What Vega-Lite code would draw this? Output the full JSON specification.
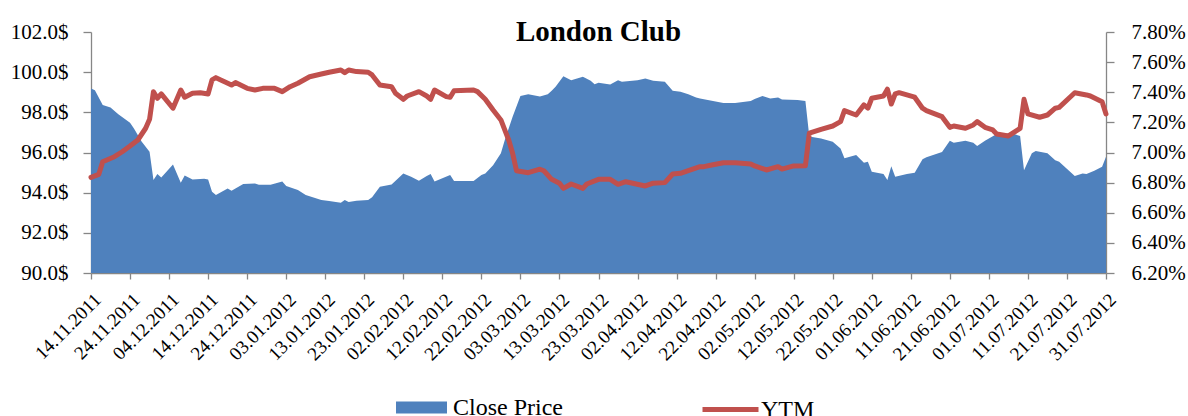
{
  "$schema": "https://vega.github.io/schema/vega-lite/v6.json",
  "width": 1015,
  "height": 241,
  "autosize": {"type": "none"},
  "padding": {"left": 91, "top": 32, "right": 82, "bottom": 143},
  "background": "#ffffff",
  "title": {"text": "London Club", "font": "Liberation Serif", "fontSize": 29, "fontWeight": "bold", "color": "#000000", "anchor": "middle", "frame": "group", "baseline": "alphabetic", "offset": -49},
  "config": {
    "view": {"stroke": null},
    "axis": {"labelFont": "Liberation Serif", "labelFontSize": 21, "labelColor": "#000000", "domainColor": "#868686", "tickColor": "#868686", "domainWidth": 1.3, "tickWidth": 1.3, "grid": false, "labelOverlap": false},
    "legend": {"labelFont": "Liberation Serif", "labelFontSize": 24, "labelColor": "#000000", "padding": 0}
  },
  "datasets": {
    "price": [
      {"date": "2011-11-14T00:00", "price": 99.19},
      {"date": "2011-11-15T00:00", "price": 99.1},
      {"date": "2011-11-17T00:00", "price": 98.36},
      {"date": "2011-11-19T00:00", "price": 98.24},
      {"date": "2011-11-21T00:00", "price": 97.9},
      {"date": "2011-11-24T00:00", "price": 97.48},
      {"date": "2011-11-25T00:00", "price": 97.2},
      {"date": "2011-11-27T00:00", "price": 96.53},
      {"date": "2011-11-29T00:00", "price": 96.04},
      {"date": "2011-11-30T00:00", "price": 94.63},
      {"date": "2011-12-01T00:00", "price": 94.93},
      {"date": "2011-12-02T00:00", "price": 94.76},
      {"date": "2011-12-05T00:00", "price": 95.4},
      {"date": "2011-12-07T00:00", "price": 94.5},
      {"date": "2011-12-08T00:00", "price": 94.85},
      {"date": "2011-12-10T00:00", "price": 94.66},
      {"date": "2011-12-13T00:00", "price": 94.69},
      {"date": "2011-12-14T00:00", "price": 94.66},
      {"date": "2011-12-15T00:00", "price": 94.05},
      {"date": "2011-12-16T00:00", "price": 93.88},
      {"date": "2011-12-19T00:00", "price": 94.21},
      {"date": "2011-12-20T00:00", "price": 94.1},
      {"date": "2011-12-23T00:00", "price": 94.43},
      {"date": "2011-12-26T00:00", "price": 94.46},
      {"date": "2011-12-27T00:00", "price": 94.4},
      {"date": "2011-12-30T00:00", "price": 94.4},
      {"date": "2012-01-02T00:00", "price": 94.55},
      {"date": "2012-01-03T00:00", "price": 94.33},
      {"date": "2012-01-06T00:00", "price": 94.13},
      {"date": "2012-01-08T00:00", "price": 93.88},
      {"date": "2012-01-12T00:00", "price": 93.63},
      {"date": "2012-01-14T00:00", "price": 93.58},
      {"date": "2012-01-17T00:00", "price": 93.5},
      {"date": "2012-01-18T00:00", "price": 93.63},
      {"date": "2012-01-19T00:00", "price": 93.53},
      {"date": "2012-01-21T00:00", "price": 93.6},
      {"date": "2012-01-24T00:00", "price": 93.63},
      {"date": "2012-01-25T00:00", "price": 93.77},
      {"date": "2012-01-27T00:00", "price": 94.3},
      {"date": "2012-01-30T00:00", "price": 94.41},
      {"date": "2012-02-02T00:00", "price": 94.96},
      {"date": "2012-02-04T00:00", "price": 94.79},
      {"date": "2012-02-06T00:00", "price": 94.59},
      {"date": "2012-02-08T00:00", "price": 94.83},
      {"date": "2012-02-09T00:00", "price": 94.93},
      {"date": "2012-02-10T00:00", "price": 94.55},
      {"date": "2012-02-14T00:00", "price": 94.88},
      {"date": "2012-02-15T00:00", "price": 94.58},
      {"date": "2012-02-20T00:00", "price": 94.58},
      {"date": "2012-02-22T00:00", "price": 94.88},
      {"date": "2012-02-23T00:00", "price": 94.96},
      {"date": "2012-02-25T00:00", "price": 95.37},
      {"date": "2012-02-27T00:00", "price": 95.96},
      {"date": "2012-02-28T00:00", "price": 96.62},
      {"date": "2012-03-01T00:00", "price": 97.78},
      {"date": "2012-03-03T00:00", "price": 98.81},
      {"date": "2012-03-05T00:00", "price": 98.9},
      {"date": "2012-03-08T00:00", "price": 98.79},
      {"date": "2012-03-10T00:00", "price": 98.9},
      {"date": "2012-03-11T00:00", "price": 99.07},
      {"date": "2012-03-12T00:00", "price": 99.27},
      {"date": "2012-03-14T00:00", "price": 99.8},
      {"date": "2012-03-16T00:00", "price": 99.6},
      {"date": "2012-03-19T00:00", "price": 99.77},
      {"date": "2012-03-21T00:00", "price": 99.57},
      {"date": "2012-03-22T00:00", "price": 99.4},
      {"date": "2012-03-23T00:00", "price": 99.47},
      {"date": "2012-03-26T00:00", "price": 99.39},
      {"date": "2012-03-28T00:00", "price": 99.6},
      {"date": "2012-03-29T00:00", "price": 99.52},
      {"date": "2012-04-02T00:00", "price": 99.6},
      {"date": "2012-04-04T00:00", "price": 99.69},
      {"date": "2012-04-06T00:00", "price": 99.57},
      {"date": "2012-04-09T00:00", "price": 99.52},
      {"date": "2012-04-11T00:00", "price": 99.07},
      {"date": "2012-04-13T00:00", "price": 99.02},
      {"date": "2012-04-15T00:00", "price": 98.9},
      {"date": "2012-04-17T00:00", "price": 98.74},
      {"date": "2012-04-18T00:00", "price": 98.69},
      {"date": "2012-04-20T00:00", "price": 98.61},
      {"date": "2012-04-24T00:00", "price": 98.47},
      {"date": "2012-04-27T00:00", "price": 98.47},
      {"date": "2012-05-01T00:00", "price": 98.57},
      {"date": "2012-05-02T00:00", "price": 98.67},
      {"date": "2012-05-04T00:00", "price": 98.81},
      {"date": "2012-05-06T00:00", "price": 98.69},
      {"date": "2012-05-08T00:00", "price": 98.74},
      {"date": "2012-05-09T00:00", "price": 98.64},
      {"date": "2012-05-13T00:00", "price": 98.61},
      {"date": "2012-05-15T00:00", "price": 98.57},
      {"date": "2012-05-16T00:00", "price": 96.8},
      {"date": "2012-05-19T00:00", "price": 96.7},
      {"date": "2012-05-22T00:00", "price": 96.53},
      {"date": "2012-05-24T00:00", "price": 96.2},
      {"date": "2012-05-25T00:00", "price": 95.71},
      {"date": "2012-05-28T00:00", "price": 95.87},
      {"date": "2012-05-30T00:00", "price": 95.49},
      {"date": "2012-05-31T00:00", "price": 95.54},
      {"date": "2012-06-01T00:00", "price": 95.04},
      {"date": "2012-06-04T00:00", "price": 94.93},
      {"date": "2012-06-05T00:00", "price": 94.63},
      {"date": "2012-06-06T00:00", "price": 95.32},
      {"date": "2012-06-07T00:00", "price": 94.79},
      {"date": "2012-06-10T00:00", "price": 94.93},
      {"date": "2012-06-12T00:00", "price": 94.99},
      {"date": "2012-06-14T00:00", "price": 95.66},
      {"date": "2012-06-15T00:00", "price": 95.76},
      {"date": "2012-06-19T00:00", "price": 96.03},
      {"date": "2012-06-21T00:00", "price": 96.58},
      {"date": "2012-06-22T00:00", "price": 96.48},
      {"date": "2012-06-25T00:00", "price": 96.58},
      {"date": "2012-06-27T00:00", "price": 96.48},
      {"date": "2012-06-28T00:00", "price": 96.32},
      {"date": "2012-06-30T00:00", "price": 96.58},
      {"date": "2012-07-03T00:00", "price": 96.92},
      {"date": "2012-07-07T00:00", "price": 96.95},
      {"date": "2012-07-09T00:00", "price": 96.82},
      {"date": "2012-07-10T00:00", "price": 95.12},
      {"date": "2012-07-12T00:00", "price": 95.96},
      {"date": "2012-07-13T00:00", "price": 96.07},
      {"date": "2012-07-16T00:00", "price": 95.96},
      {"date": "2012-07-18T00:00", "price": 95.62},
      {"date": "2012-07-19T00:00", "price": 95.54},
      {"date": "2012-07-23T00:00", "price": 94.83},
      {"date": "2012-07-25T00:00", "price": 94.96},
      {"date": "2012-07-26T00:00", "price": 94.93},
      {"date": "2012-07-28T00:00", "price": 95.09},
      {"date": "2012-07-30T00:00", "price": 95.29},
      {"date": "2012-07-31T00:00", "price": 95.79}
    ],
    "ytm": [
      {"date": "2011-11-14T00:00", "ytm": 6.835},
      {"date": "2011-11-16T00:00", "ytm": 6.855},
      {"date": "2011-11-17T00:00", "ytm": 6.939},
      {"date": "2011-11-20T00:00", "ytm": 6.972},
      {"date": "2011-11-22T00:00", "ytm": 7.005},
      {"date": "2011-11-24T00:00", "ytm": 7.043},
      {"date": "2011-11-26T00:00", "ytm": 7.083},
      {"date": "2011-11-28T00:00", "ytm": 7.161},
      {"date": "2011-11-29T00:00", "ytm": 7.22},
      {"date": "2011-11-30T00:00", "ytm": 7.404},
      {"date": "2011-12-01T00:00", "ytm": 7.36},
      {"date": "2011-12-02T00:00", "ytm": 7.389},
      {"date": "2011-12-05T00:00", "ytm": 7.294},
      {"date": "2011-12-07T00:00", "ytm": 7.415},
      {"date": "2011-12-08T00:00", "ytm": 7.367},
      {"date": "2011-12-10T00:00", "ytm": 7.393},
      {"date": "2011-12-12T00:00", "ytm": 7.397},
      {"date": "2011-12-14T00:00", "ytm": 7.389},
      {"date": "2011-12-15T00:00", "ytm": 7.482},
      {"date": "2011-12-16T00:00", "ytm": 7.497},
      {"date": "2011-12-20T00:00", "ytm": 7.448},
      {"date": "2011-12-21T00:00", "ytm": 7.464},
      {"date": "2011-12-24T00:00", "ytm": 7.426},
      {"date": "2011-12-26T00:00", "ytm": 7.415},
      {"date": "2011-12-28T00:00", "ytm": 7.426},
      {"date": "2011-12-31T00:00", "ytm": 7.426},
      {"date": "2012-01-02T00:00", "ytm": 7.404},
      {"date": "2012-01-04T00:00", "ytm": 7.437},
      {"date": "2012-01-06T00:00", "ytm": 7.46},
      {"date": "2012-01-09T00:00", "ytm": 7.503},
      {"date": "2012-01-12T00:00", "ytm": 7.521},
      {"date": "2012-01-14T00:00", "ytm": 7.533},
      {"date": "2012-01-17T00:00", "ytm": 7.548},
      {"date": "2012-01-18T00:00", "ytm": 7.53},
      {"date": "2012-01-19T00:00", "ytm": 7.548},
      {"date": "2012-01-21T00:00", "ytm": 7.537},
      {"date": "2012-01-24T00:00", "ytm": 7.533},
      {"date": "2012-01-25T00:00", "ytm": 7.515},
      {"date": "2012-01-27T00:00", "ytm": 7.448},
      {"date": "2012-01-30T00:00", "ytm": 7.437},
      {"date": "2012-01-31T00:00", "ytm": 7.393},
      {"date": "2012-02-02T00:00", "ytm": 7.353},
      {"date": "2012-02-03T00:00", "ytm": 7.375},
      {"date": "2012-02-06T00:00", "ytm": 7.404},
      {"date": "2012-02-08T00:00", "ytm": 7.375},
      {"date": "2012-02-09T00:00", "ytm": 7.353},
      {"date": "2012-02-10T00:00", "ytm": 7.415},
      {"date": "2012-02-13T00:00", "ytm": 7.371},
      {"date": "2012-02-14T00:00", "ytm": 7.367},
      {"date": "2012-02-15T00:00", "ytm": 7.41},
      {"date": "2012-02-20T00:00", "ytm": 7.415},
      {"date": "2012-02-21T00:00", "ytm": 7.404},
      {"date": "2012-02-23T00:00", "ytm": 7.353},
      {"date": "2012-02-25T00:00", "ytm": 7.282},
      {"date": "2012-02-27T00:00", "ytm": 7.216},
      {"date": "2012-02-29T00:00", "ytm": 7.083},
      {"date": "2012-03-01T00:00", "ytm": 6.995},
      {"date": "2012-03-02T00:00", "ytm": 6.879},
      {"date": "2012-03-05T00:00", "ytm": 6.866},
      {"date": "2012-03-08T00:00", "ytm": 6.889},
      {"date": "2012-03-09T00:00", "ytm": 6.879},
      {"date": "2012-03-11T00:00", "ytm": 6.822},
      {"date": "2012-03-13T00:00", "ytm": 6.796},
      {"date": "2012-03-14T00:00", "ytm": 6.762},
      {"date": "2012-03-16T00:00", "ytm": 6.791},
      {"date": "2012-03-19T00:00", "ytm": 6.762},
      {"date": "2012-03-20T00:00", "ytm": 6.791},
      {"date": "2012-03-23T00:00", "ytm": 6.822},
      {"date": "2012-03-26T00:00", "ytm": 6.822},
      {"date": "2012-03-28T00:00", "ytm": 6.789},
      {"date": "2012-03-30T00:00", "ytm": 6.806},
      {"date": "2012-04-04T00:00", "ytm": 6.778},
      {"date": "2012-04-06T00:00", "ytm": 6.796},
      {"date": "2012-04-09T00:00", "ytm": 6.8},
      {"date": "2012-04-11T00:00", "ytm": 6.857},
      {"date": "2012-04-13T00:00", "ytm": 6.862},
      {"date": "2012-04-15T00:00", "ytm": 6.879},
      {"date": "2012-04-18T00:00", "ytm": 6.906},
      {"date": "2012-04-19T00:00", "ytm": 6.906},
      {"date": "2012-04-21T00:00", "ytm": 6.917},
      {"date": "2012-04-24T00:00", "ytm": 6.932},
      {"date": "2012-04-27T00:00", "ytm": 6.932},
      {"date": "2012-05-01T00:00", "ytm": 6.924},
      {"date": "2012-05-02T00:00", "ytm": 6.911},
      {"date": "2012-05-05T00:00", "ytm": 6.884},
      {"date": "2012-05-08T00:00", "ytm": 6.906},
      {"date": "2012-05-09T00:00", "ytm": 6.89},
      {"date": "2012-05-12T00:00", "ytm": 6.911},
      {"date": "2012-05-15T00:00", "ytm": 6.912},
      {"date": "2012-05-16T00:00", "ytm": 7.128},
      {"date": "2012-05-19T00:00", "ytm": 7.154},
      {"date": "2012-05-22T00:00", "ytm": 7.176},
      {"date": "2012-05-24T00:00", "ytm": 7.205},
      {"date": "2012-05-25T00:00", "ytm": 7.278},
      {"date": "2012-05-28T00:00", "ytm": 7.249},
      {"date": "2012-05-30T00:00", "ytm": 7.316},
      {"date": "2012-05-31T00:00", "ytm": 7.294},
      {"date": "2012-06-01T00:00", "ytm": 7.36},
      {"date": "2012-06-04T00:00", "ytm": 7.375},
      {"date": "2012-06-05T00:00", "ytm": 7.42},
      {"date": "2012-06-06T00:00", "ytm": 7.322},
      {"date": "2012-06-07T00:00", "ytm": 7.389},
      {"date": "2012-06-08T00:00", "ytm": 7.397},
      {"date": "2012-06-12T00:00", "ytm": 7.367},
      {"date": "2012-06-14T00:00", "ytm": 7.294},
      {"date": "2012-06-15T00:00", "ytm": 7.278},
      {"date": "2012-06-19T00:00", "ytm": 7.238},
      {"date": "2012-06-21T00:00", "ytm": 7.167},
      {"date": "2012-06-22T00:00", "ytm": 7.176},
      {"date": "2012-06-25T00:00", "ytm": 7.161},
      {"date": "2012-06-27T00:00", "ytm": 7.183},
      {"date": "2012-06-28T00:00", "ytm": 7.205},
      {"date": "2012-06-30T00:00", "ytm": 7.167},
      {"date": "2012-07-02T00:00", "ytm": 7.15},
      {"date": "2012-07-03T00:00", "ytm": 7.123},
      {"date": "2012-07-06T00:00", "ytm": 7.11},
      {"date": "2012-07-09T00:00", "ytm": 7.16},
      {"date": "2012-07-10T00:00", "ytm": 7.353},
      {"date": "2012-07-11T00:00", "ytm": 7.256},
      {"date": "2012-07-14T00:00", "ytm": 7.234},
      {"date": "2012-07-16T00:00", "ytm": 7.249},
      {"date": "2012-07-18T00:00", "ytm": 7.294},
      {"date": "2012-07-19T00:00", "ytm": 7.3},
      {"date": "2012-07-23T00:00", "ytm": 7.397},
      {"date": "2012-07-26T00:00", "ytm": 7.382},
      {"date": "2012-07-27T00:00", "ytm": 7.375},
      {"date": "2012-07-30T00:00", "ytm": 7.337},
      {"date": "2012-07-31T00:00", "ytm": 7.256}
    ]
  },
  "encoding": {
    "x": {
      "field": "date",
      "type": "temporal",
      "title": null,
      "scale": {"domain": [{"year": 2011, "month": 11, "date": 14}, {"year": 2012, "month": 7, "date": 31}], "nice": false},
      "axis": {
        "values": [
          {"year": 2011, "month": 11, "date": 14}, {"year": 2011, "month": 11, "date": 24},
          {"year": 2011, "month": 12, "date": 4}, {"year": 2011, "month": 12, "date": 14}, {"year": 2011, "month": 12, "date": 24},
          {"year": 2012, "month": 1, "date": 3}, {"year": 2012, "month": 1, "date": 13}, {"year": 2012, "month": 1, "date": 23},
          {"year": 2012, "month": 2, "date": 2}, {"year": 2012, "month": 2, "date": 12}, {"year": 2012, "month": 2, "date": 22},
          {"year": 2012, "month": 3, "date": 3}, {"year": 2012, "month": 3, "date": 13}, {"year": 2012, "month": 3, "date": 23},
          {"year": 2012, "month": 4, "date": 2}, {"year": 2012, "month": 4, "date": 12}, {"year": 2012, "month": 4, "date": 22},
          {"year": 2012, "month": 5, "date": 2}, {"year": 2012, "month": 5, "date": 12}, {"year": 2012, "month": 5, "date": 22},
          {"year": 2012, "month": 6, "date": 1}, {"year": 2012, "month": 6, "date": 11}, {"year": 2012, "month": 6, "date": 21},
          {"year": 2012, "month": 7, "date": 1}, {"year": 2012, "month": 7, "date": 11}, {"year": 2012, "month": 7, "date": 21},
          {"year": 2012, "month": 7, "date": 31}
        ],
        "format": "%d.%m.%Y",
        "labelAngle": -45,
        "labelAlign": "right",
        "labelBaseline": "top",
        "labelFontSize": 19,
        "tickSize": 6,
        "labelPadding": 11,
        "labelFlush": false
      }
    }
  },
  "layer": [
    {
      "data": {"name": "price"},
      "mark": {"type": "area", "opacity": 1},
      "encoding": {
        "y": {
          "field": "price", "type": "quantitative", "title": null,
          "scale": {"domain": [90, 102], "nice": false, "zero": false},
          "axis": {"orient": "left", "values": [90, 92, 94, 96, 98, 100, 102], "labelExpr": "format(datum.value, '.1f') + '$'", "tickSize": 8, "labelPadding": 15}
        },
        "y2": {"datum": 90},
        "fill": {
          "datum": "Close Price",
          "scale": {"domain": ["Close Price"], "range": ["#4F81BD"]},
          "legend": {"orient": "none", "legendX": 305, "legendY": 350, "title": null, "symbolType": "M-1,-0.235H1V0.235H-1Z", "symbolSize": 2601, "symbolStrokeWidth": 0, "symbolOpacity": 1, "labelOffset": 6}
        }
      }
    },
    {
      "data": {"name": "ytm"},
      "mark": {"type": "line", "strokeWidth": 5, "strokeCap": "round", "strokeJoin": "round"},
      "encoding": {
        "y": {
          "field": "ytm", "type": "quantitative", "title": null,
          "scale": {"domain": [6.2, 7.8], "nice": false, "zero": false},
          "axis": {"orient": "right", "values": [6.2, 6.4, 6.6, 6.8, 7.0, 7.2, 7.4, 7.6, 7.8], "labelExpr": "format(datum.value, '.2f') + '%'", "tickSize": 8, "labelPadding": 17}
        },
        "stroke": {
          "datum": "YTM",
          "scale": {"domain": ["YTM"], "range": ["#C0504D"]},
          "legend": {"orient": "none", "legendX": 609, "legendY": 347, "title": null, "symbolType": "stroke", "symbolSize": 3136, "symbolStrokeWidth": 5, "labelOffset": 0}
        }
      }
    }
  ],
  "resolve": {"scale": {"y": "independent"}}
}
